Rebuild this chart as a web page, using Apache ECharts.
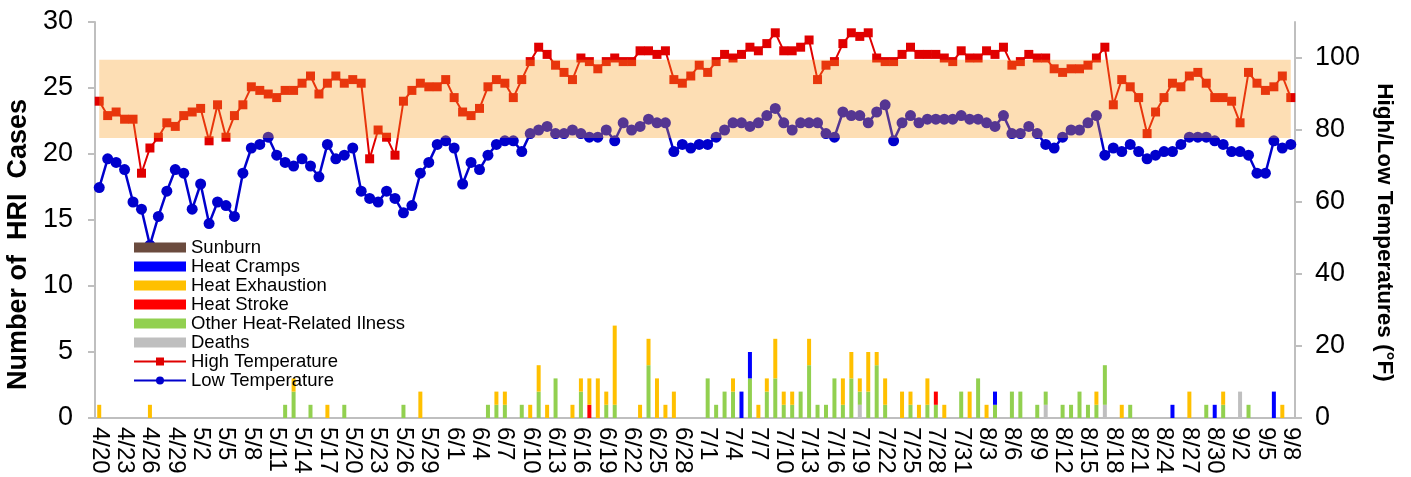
<!DOCTYPE html>
<html>
<head>
<meta charset="utf-8">
<script src="https://cdn.jsdelivr.net/npm/echarts@6/dist/echarts.min.js"></script>
<style>
html,body{margin:0;padding:0;background:#fff;}
#chart{width:1411px;height:477px;}
</style>
</head>
<body>
<div id="chart"></div>
<script>
const categories = [
 '4/20','4/21','4/22','4/23','4/24','4/25','4/26','4/27','4/28','4/29','4/30',
 '5/1','5/2','5/3','5/4','5/5','5/6','5/7','5/8','5/9','5/10','5/11','5/12','5/13','5/14','5/15','5/16','5/17','5/18','5/19','5/20','5/21','5/22','5/23','5/24','5/25','5/26','5/27','5/28','5/29','5/30','5/31',
 '6/1','6/2','6/3','6/4','6/5','6/6','6/7','6/8','6/9','6/10','6/11','6/12','6/13','6/14','6/15','6/16','6/17','6/18','6/19','6/20','6/21','6/22','6/23','6/24','6/25','6/26','6/27','6/28','6/29','6/30',
 '7/1','7/2','7/3','7/4','7/5','7/6','7/7','7/8','7/9','7/10','7/11','7/12','7/13','7/14','7/15','7/16','7/17','7/18','7/19','7/20','7/21','7/22','7/23','7/24','7/25','7/26','7/27','7/28','7/29','7/30','7/31',
 '8/1','8/2','8/3','8/4','8/5','8/6','8/7','8/8','8/9','8/10','8/11','8/12','8/13','8/14','8/15','8/16','8/17','8/18','8/19','8/20','8/21','8/22','8/23','8/24','8/25','8/26','8/27','8/28','8/29','8/30','8/31',
 '9/1','9/2','9/3','9/4','9/5','9/6','9/7','9/8'
];

const sunburn = new Array(142).fill(0);

const heatCramps = [
 0,0,0,0,0,0,0,0,0,0, 0,0,0,0,0,0,0,0,0,0, 0,0,0,0,0,0,0,0,0,0, 0,0,0,0,0,0,0,0,0,0,
 0,0,0,0,0,0,0,0,0,0, 0,0,0,0,0,0,0,0,0,0, 0,0,0,0,0,0,0,0,0,0, 0,0,0,0,0,0,2,2,0,0,
 0,0,0,0,0,0,0,0,0,0, 0,0,0,0,0,0,0,0,0,0, 0,0,0,0,0,0,1,0,0,0, 0,0,0,0,0,0,0,0,0,0,
 0,0,0,0,0,0,0,1,0,0, 0,0,1,0,0,0,0,0,0,2, 0,0
];

const heatExhaustion = [
 1,0,0,0,0,0,1,0,0,0, 0,0,0,0,0,0,0,0,0,0, 0,0,0,1,0,0,0,1,0,0, 0,0,0,0,0,0,0,0,2,0,
 0,0,0,0,0,0,0,1,1,0, 0,1,2,1,0,0,1,1,2,3, 1,6,0,0,1,2,3,1,2,0, 0,0,0,0,0,1,0,0,1,1,
 3,1,1,0,2,0,0,0,2,2, 1,3,1,2,0,2,1,1,2,0, 1,0,0,2,0,1,0,0,0,0, 0,0,0,0,0,0,0,0,1,0,
 0,1,0,0,0,0,0,0,0,2, 0,0,0,1,0,0,0,0,0,0, 1,0
];

const heatStroke = [
 0,0,0,0,0,0,0,0,0,0, 0,0,0,0,0,0,0,0,0,0, 0,0,0,0,0,0,0,0,0,0, 0,0,0,0,0,0,0,0,0,0,
 0,0,0,0,0,0,0,0,0,0, 0,0,0,0,0,0,0,0,1,0, 0,0,0,0,0,0,0,0,0,0, 0,0,0,0,0,0,0,0,0,0,
 0,0,0,0,0,0,0,0,0,0, 0,0,0,0,0,0,0,0,0,1, 0,0,0,0,0,0,0,0,0,0, 0,0,0,0,0,0,0,0,0,0,
 0,0,0,0,0,0,0,0,0,0, 0,0,0,0,0,0,0,0,0,0, 0,0
];

const otherHRI = [
 0,0,0,0,0,0,0,0,0,0, 0,0,0,0,0,0,0,0,0,0, 0,0,1,2,0,1,0,0,0,1, 0,0,0,0,0,0,1,0,0,0,
 0,0,0,0,0,0,1,1,1,0, 1,0,2,0,3,0,0,2,0,0, 1,1,0,0,0,4,0,0,0,0, 0,0,3,1,2,2,0,3,0,2,
 3,1,1,2,4,1,1,3,1,3, 1,2,4,1,0,0,1,0,1,1, 0,0,2,0,3,0,1,0,2,2, 0,1,1,0,1,1,2,1,1,3,
 0,0,1,0,0,0,0,0,0,0, 0,1,0,1,0,0,1,0,0,0, 0,0
];

const deaths = [
 0,0,0,0,0,0,0,0,0,0, 0,0,0,0,0,0,0,0,0,0, 0,0,0,0,0,0,0,0,0,0, 0,0,0,0,0,0,0,0,0,0,
 0,0,0,0,0,0,0,0,0,0, 0,0,0,0,0,0,0,0,0,0, 0,0,0,0,0,0,0,0,0,0, 0,0,0,0,0,0,0,0,0,0,
 0,0,0,0,0,0,0,0,0,0, 1,0,0,0,0,0,0,0,0,0, 0,0,0,0,0,0,0,0,0,0, 0,0,1,0,0,0,0,0,0,1,
 0,0,0,0,0,0,0,0,0,0, 0,0,0,0,0,2,0,0,0,0, 0,0
];

const highTemp = [
 88,84,85,83,83,68,75,78,82,81,
 84,85,86,77,87,78,84,87,92,91,
 90,89,91,91,93,95,90,93,95,93,
 94,93,72,80,78,73,88,91,93,92,
 92,94,89,85,84,86,92,94,93,89,
 94,99,103,101,98,96,94,100,99,97,
 99,100,99,99,102,102,101,102,94,93,
 95,98,96,99,101,100,101,103,102,104,
 107,102,102,103,105,94,98,99,104,107,
 106,107,100,99,99,101,103,101,101,101,
 100,99,102,100,100,102,101,103,98,99,
 101,100,100,97,96,97,97,98,100,103,
 87,94,92,89,79,85,89,93,92,95,
 96,93,89,89,88,82,96,93,91,92,
 95,89
];

const lowTemp = [
 64,72,71,69,60,58,48,56,63,69,
 68,58,65,54,60,59,56,68,75,76,
 78,73,71,70,72,70,67,76,72,73,
 75,63,61,60,63,61,57,59,68,71,
 76,77,75,65,71,69,73,76,77,77,
 74,79,80,81,79,79,80,79,78,78,
 80,77,82,80,81,83,82,82,74,76,
 75,76,76,78,80,82,82,81,82,84,
 86,82,80,82,82,82,79,78,85,84,
 84,82,85,87,77,82,84,82,83,83,
 83,83,84,83,83,82,81,84,79,79,
 81,79,76,75,78,80,80,82,84,73,
 75,74,76,74,72,73,74,74,76,78,
 78,78,77,76,74,74,73,68,68,77,
 75,76
];

const leftTicks = [0, 30, 5];      // min, max, interval
const rightTicks = [0, 110, 20];   // min, max, interval
const comfortBand = [77.8, 99.5];  // shaded temperature band (°F)

const FONT = "'Liberation Sans', Arial, sans-serif";
const chart = echarts.init(document.getElementById('chart'), null, {renderer: 'canvas'});

function barSeries(name, data, color) {
  return {
    name: name, type: 'bar', stack: 'hri', data: data, barWidth: 4,
    itemStyle: {color: color}, yAxisIndex: 0, z: 2
  };
}

chart.setOption({
  animation: false,
  textStyle: {fontFamily: FONT},
  grid: {left: 95, right: 116, top: 22, bottom: 59, containLabel: false, outerBoundsMode: 'none'},
  legend: {
    orient: 'vertical', left: 133, top: 238, padding: 0,
    itemWidth: 52, itemHeight: 10, itemGap: 0,
    textStyle: {fontSize: 18.5, lineHeight: 19, color: '#000', fontFamily: FONT},
    data: [
      {name: 'Sunburn', icon: 'rect'},
      {name: 'Heat Cramps', icon: 'rect'},
      {name: 'Heat Exhaustion', icon: 'rect'},
      {name: 'Heat Stroke', icon: 'rect'},
      {name: 'Other Heat-Related Ilness', icon: 'rect'},
      {name: 'Deaths', icon: 'rect'},
      'High Temperature', 'Low Temperature'
    ]
  },
  xAxis: {
    type: 'category', data: categories, boundaryGap: true,
    axisLine: {lineStyle: {color: '#bfbfbf', width: 2}},
    axisTick: {interval: 0, length: 5, lineStyle: {color: '#999'}},
    axisLabel: {interval: 2, rotate: -90, fontSize: 24, color: '#000', margin: 9, fontFamily: FONT}
  },
  yAxis: [
    {
      type: 'value', min: leftTicks[0], max: leftTicks[1], interval: leftTicks[2],
      name: 'Number of  HRI  Cases', nameLocation: 'middle', nameGap: 54,
      nameTextStyle: {fontSize: 27, fontWeight: 'bold', color: '#000', fontFamily: FONT, padding: [0, 49, 0, 0]},
      axisLine: {show: true, lineStyle: {color: '#bfbfbf', width: 2}},
      axisTick: {show: true, length: 7, lineStyle: {color: '#bfbfbf', width: 2}},
      axisLabel: {fontSize: 27, color: '#000', margin: 22, fontFamily: FONT},
      splitLine: {show: false}
    },
    {
      type: 'value', min: rightTicks[0], max: rightTicks[1], interval: rightTicks[2],
      name: 'High/Low Temperatures (°F)', nameLocation: 'middle', nameGap: 78, nameRotate: -90,
      nameTextStyle: {fontSize: 22.5, fontWeight: 'bold', color: '#000', fontFamily: FONT, padding: [0, 0, 0, 25]},
      axisLine: {show: true, lineStyle: {color: '#bfbfbf', width: 2}},
      axisTick: {show: true, length: 7, lineStyle: {color: '#bfbfbf', width: 2}},
      axisLabel: {fontSize: 27, color: '#000', margin: 20, showMaxLabel: false, fontFamily: FONT},
      splitLine: {show: false}
    }
  ],
  series: [
    barSeries('Deaths', deaths, '#bfbfbf'),
    barSeries('Other Heat-Related Ilness', otherHRI, '#92d050'),
    barSeries('Heat Stroke', heatStroke, '#ff0000'),
    barSeries('Heat Exhaustion', heatExhaustion, '#ffc000'),
    barSeries('Heat Cramps', heatCramps, '#0000ff'),
    barSeries('Sunburn', sunburn, '#6b4b3e'),
    {
      name: 'High Temperature', type: 'line', yAxisIndex: 1, data: highTemp,
      symbol: 'rect', symbolSize: 9, showAllSymbol: true,
      itemStyle: {color: '#e00000'}, lineStyle: {color: '#e00000', width: 2}, z: 3
    },
    {
      name: 'Low Temperature', type: 'line', yAxisIndex: 1, data: lowTemp,
      symbol: 'circle', symbolSize: 11, showAllSymbol: true,
      itemStyle: {color: '#0000cc'}, lineStyle: {color: '#0000cc', width: 2.5}, z: 3,
      markArea: {
        silent: true, z: 10,
        itemStyle: {color: 'rgba(250,159,35,0.34)'},
        data: [[
          {xAxis: categories[0], yAxis: comfortBand[0]},
          {xAxis: categories[categories.length - 1], yAxis: comfortBand[1]}
        ]]
      }
    }
  ]
});
</script>
</body>
</html>
